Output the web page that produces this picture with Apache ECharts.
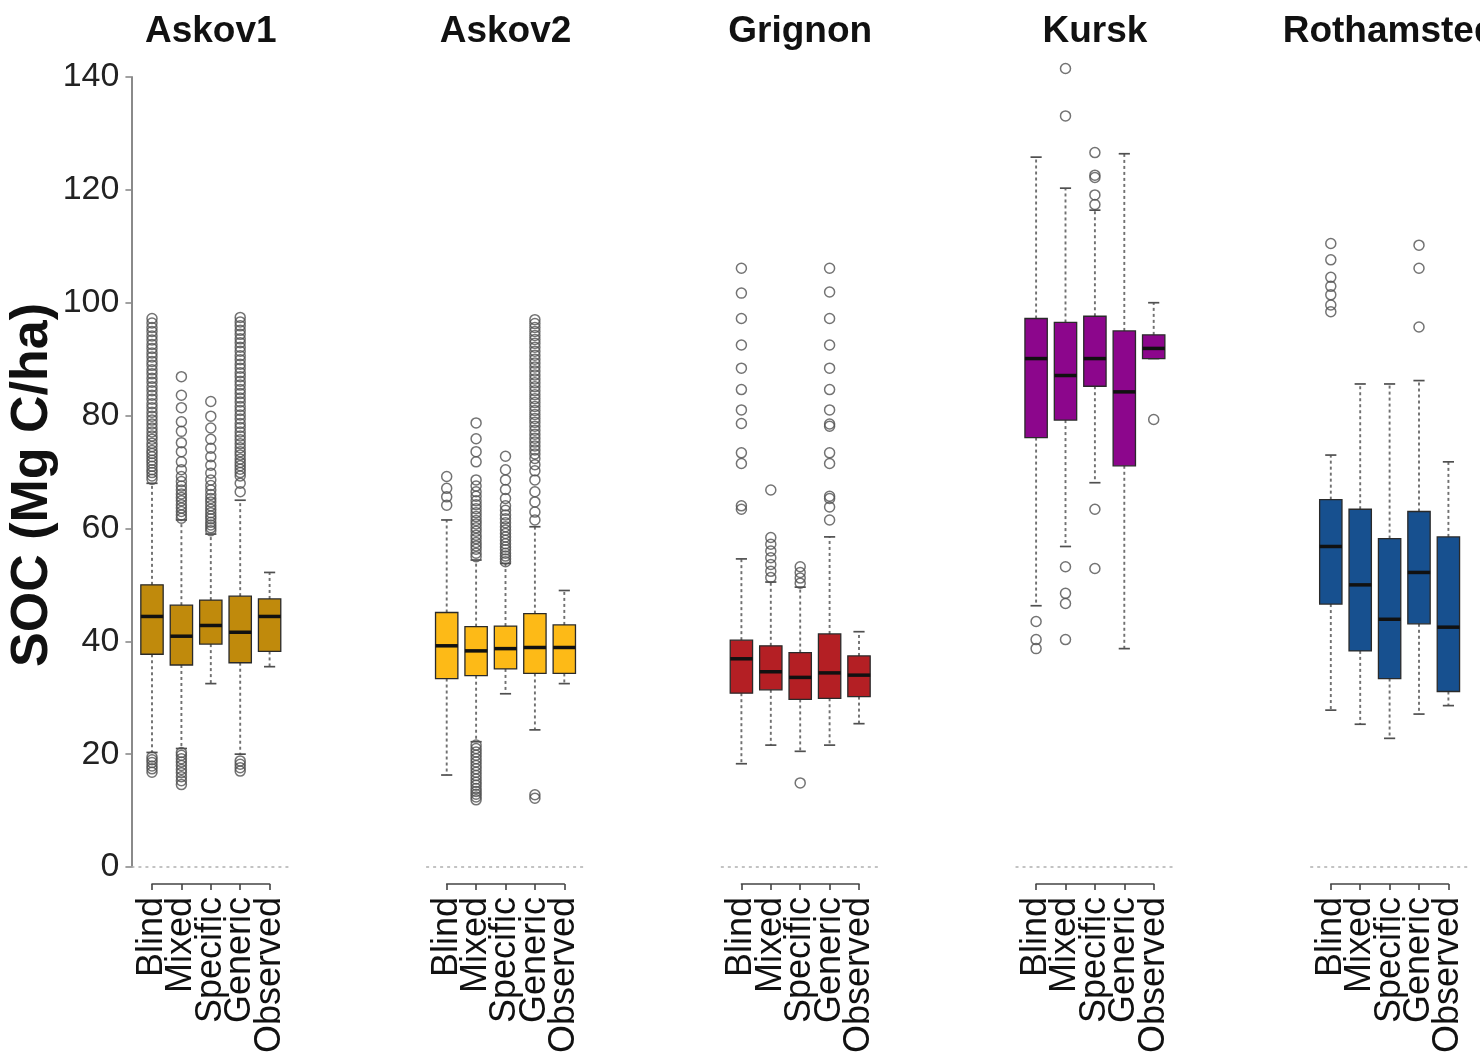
<!DOCTYPE html>
<html>
<head>
<meta charset="utf-8">
<script src="https://cdn.jsdelivr.net/npm/echarts@6/dist/echarts.min.js"></script>
<style>
  html, body { margin: 0; padding: 0; background: #fff; }
  #chart { width: 1480px; height: 1055px; }
</style>
</head>
<body>
<div id="chart"></div>
<script>
// ---------------- DATA ----------------
const SITES = ['Askov1', 'Askov2', 'Grignon', 'Kursk', 'Rothamsted'];
const METHODS = ['Blind', 'Mixed', 'Specific', 'Generic', 'Observed'];
const Y_MIN = 0, Y_MAX = 140, Y_STEP = 20;
const Y_NAME = 'SOC (Mg C/ha)';

// box stats per method: [lower whisker, Q1, median, Q3, upper whisker]
const askov1Box = [
  [20.3, 37.7, 44.4, 50.0, 68.0],
  [21.0, 35.8, 40.9, 46.4, 61.5],
  [32.5, 39.5, 42.8, 47.3, 59.0],
  [20.0, 36.2, 41.6, 48.0, 65.0],
  [35.5, 38.2, 44.4, 47.5, 52.2]
];
const askov2Box = [
  [16.3, 33.4, 39.2, 45.1, 61.5],
  [22.2, 33.9, 38.3, 42.6, 54.4],
  [30.7, 35.1, 38.7, 42.7, 53.8],
  [24.3, 34.3, 38.9, 44.9, 60.3],
  [32.5, 34.3, 38.9, 42.9, 49.0]
];
const grignonBox = [
  [18.3, 30.8, 36.9, 40.2, 54.6],
  [21.6, 31.4, 34.6, 39.2, 50.5],
  [20.5, 29.7, 33.6, 38.0, 49.6],
  [21.6, 29.9, 34.4, 41.3, 58.5],
  [25.4, 30.2, 34.0, 37.4, 41.7]
];
const kurskBox = [
  [46.3, 76.1, 90.1, 97.2, 125.8],
  [56.8, 79.2, 87.1, 96.5, 120.3],
  [68.1, 85.2, 90.1, 97.6, 116.4],
  [38.7, 71.1, 84.2, 95.0, 126.4],
  [90.1, 90.1, 91.9, 94.3, 100.0]
];
const rothamstedBox = [
  [27.8, 46.6, 56.8, 65.1, 73.0],
  [25.3, 38.3, 50.0, 63.4, 85.6],
  [22.8, 33.4, 43.9, 58.2, 85.6],
  [27.1, 43.1, 52.2, 63.0, 86.2],
  [28.6, 31.1, 42.5, 58.5, 71.8]
];

// outliers per method (Blind, Mixed, Specific, Generic, Observed)
const askov1Out = [
  [16.8, 17.4, 17.9, 18.5, 19.0, 19.5,
   68.7, 69.3, 69.9, 70.4, 71.0, 71.6, 72.1, 72.7, 73.3, 73.8, 74.5, 75.1, 75.8, 76.4,
   77.1, 77.8, 78.5, 79.2, 79.9, 80.6, 81.4, 82.1, 82.9, 83.6, 84.4, 85.1, 85.9, 86.6,
   87.4, 88.1, 88.9, 89.6, 90.4, 91.1, 91.9, 92.6, 93.4, 94.1, 94.9, 95.6, 96.4, 97.2],
  [14.6, 15.3, 16.0, 16.7, 17.3, 18.0, 18.6, 19.2, 19.8, 20.3,
   61.8, 62.4, 63.0, 63.6, 64.2, 64.9, 65.5, 66.1, 66.8, 67.5, 68.3, 69.2, 70.4, 71.8,
   73.6, 75.2, 77.2, 78.9, 81.4, 83.6, 86.9],
  [59.6, 60.1, 60.6, 61.1, 61.7, 62.2, 62.8, 63.4, 64.0, 64.7, 65.3, 66.0, 66.8, 67.6,
   68.6, 69.8, 71.2, 72.7, 74.2, 75.8, 77.8, 79.9, 82.5],
  [17.0, 17.6, 18.2, 18.8,
   66.5, 68.0, 69.3, 69.9, 70.5, 71.1, 71.7, 72.3, 73.0, 73.6, 74.3, 75.0, 75.7, 76.4,
   77.1, 77.9, 78.6, 79.4, 80.1, 80.9, 81.6, 82.4, 83.1, 83.9, 84.6, 85.4, 86.1, 86.9,
   87.6, 88.4, 89.1, 89.9, 90.6, 91.4, 92.1, 92.9, 93.6, 94.4, 95.1, 95.9, 96.6, 97.4],
  []
];
const askov2Out = [
  [64.1, 65.6, 67.1, 69.2],
  [11.9, 12.4, 12.9, 13.4, 13.9, 14.5, 15.0, 15.6, 16.2, 16.8, 17.4, 18.0, 18.6, 19.2,
   19.8, 20.4, 21.0, 21.6,
   55.0, 55.6, 56.3, 56.9, 57.5, 58.2, 58.8, 59.5, 60.1, 60.8, 61.4, 62.1, 62.8, 63.5,
   64.2, 64.9, 65.7, 66.5, 67.5, 68.6, 71.8, 73.6, 75.9, 78.7],
  [54.1, 54.6, 55.1, 55.6, 56.2, 56.7, 57.3, 57.9, 58.5, 59.1, 59.7, 60.3, 61.0, 61.7,
   62.4, 63.2, 64.0, 65.3, 66.9, 68.6, 70.4, 72.8],
  [12.2, 12.8,
   61.5, 62.9, 64.7, 66.5, 68.6, 70.2, 71.3, 72.4, 73.2, 73.9, 74.6, 75.3, 76.0, 76.7,
   77.4, 78.1, 78.8, 79.5, 80.2, 80.9, 81.6, 82.3, 83.0, 83.7, 84.4, 85.1, 85.8, 86.5,
   87.2, 87.9, 88.6, 89.3, 90.0, 90.7, 91.4, 92.1, 92.8, 93.5, 94.2, 94.9, 95.6, 96.3, 97.0],
  []
];
const grignonOut = [
  [63.4, 64.0, 71.5, 73.4, 78.6, 81.0, 84.6, 88.4, 92.5, 97.2, 101.7, 106.1],
  [51.3, 52.4, 53.6, 54.8, 56.0, 57.2, 58.4, 66.8],
  [14.9, 50.3, 51.2, 52.2, 53.2],
  [61.5, 63.8, 65.3, 65.7, 71.5, 73.4, 78.1, 78.5, 81.0, 84.6, 88.4, 92.5, 97.2, 101.9, 106.1],
  []
];
const kurskOut = [
  [38.7, 40.3, 43.5],
  [40.3, 46.7, 48.5, 53.2, 133.1, 141.5],
  [52.9, 63.4, 117.4, 119.1, 122.2, 122.6, 126.6],
  [],
  [79.3]
];
const rothamstedOut = [
  [98.4, 99.6, 101.4, 102.9, 104.5, 107.6, 110.5],
  [],
  [],
  [95.7, 106.1, 110.2],
  []
];

const BOXES = [askov1Box, askov2Box, grignonBox, kurskBox, rothamstedBox];
const OUTLIERS = [askov1Out, askov2Out, grignonOut, kurskOut, rothamstedOut];
const COLORS = ['#C08A0C', '#FDBA17', '#B41F24', '#8C068C', '#17508F'];

// ---------------- LAYOUT ----------------
const FONT = '"Liberation Sans", Arial, Helvetica, sans-serif';
const PLOT_TOP = 77, PLOT_H = 790;
const FIRST_CAT_X = 152, CAT_STEP = 29.4, PANEL_STEP = 294.7;

function makeRender(color) {
  return function (params, api) {
    const c = api.value(0);
    const x = api.coord([c, api.value(3)])[0];
    const yLw = api.coord([c, api.value(1)])[1];
    const yQ1 = api.coord([c, api.value(2)])[1];
    const yMed = api.coord([c, api.value(3)])[1];
    const yQ3 = api.coord([c, api.value(4)])[1];
    const yUw = api.coord([c, api.value(5)])[1];
    const band = api.size([1, 0])[0];
    const bw = band * 0.76;
    const cap = bw * 0.25;
    const wStyle = { stroke: '#707070', lineWidth: 1.9, lineDash: [3, 3] };
    const cStyle = { stroke: '#505050', lineWidth: 1.7 };
    return {
      type: 'group',
      children: [
        { type: 'line', shape: { x1: x, y1: yQ3, x2: x, y2: yUw }, style: wStyle },
        { type: 'line', shape: { x1: x, y1: yQ1, x2: x, y2: yLw }, style: wStyle },
        { type: 'line', shape: { x1: x - cap, y1: yUw, x2: x + cap, y2: yUw }, style: cStyle },
        { type: 'line', shape: { x1: x - cap, y1: yLw, x2: x + cap, y2: yLw }, style: cStyle },
        { type: 'rect', shape: { x: x - bw / 2, y: yQ3, width: bw, height: yQ1 - yQ3 },
          style: { fill: color, stroke: '#2a2a2a', lineWidth: 1.3 } },
        { type: 'line', shape: { x1: x - bw / 2, y1: yMed, x2: x + bw / 2, y2: yMed },
          style: { stroke: '#111', lineWidth: 3.5 } }
      ]
    };
  };
}

const grids = [], xAxes = [], yAxes = [], series = [], titles = [];

SITES.forEach((site, k) => {
  const firstX = FIRST_CAT_X + PANEL_STEP * k;
  const outerLeft = firstX - 0.7 * CAT_STEP;
  const outerW = 5.4 * CAT_STEP;
  const innerW = 4 * CAT_STEP;

  grids.push({ left: outerLeft, top: PLOT_TOP, width: outerW, height: PLOT_H, outerBoundsMode: 'none' });
  grids.push({ left: firstX, top: PLOT_TOP, width: innerW, height: PLOT_H, outerBoundsMode: 'none' });
  const gOuter = 2 * k, gInner = 2 * k + 1;

  xAxes.push({ gridIndex: gOuter, type: 'value', min: 0, max: 1, show: false });
  xAxes.push({
    gridIndex: gInner, type: 'category', data: METHODS, boundaryGap: false,
    position: 'bottom', offset: 17,
    axisLine: { show: true, onZero: false, lineStyle: { color: '#444', width: 1.6 } },
    axisTick: { show: true, length: 6, inside: false, interval: 0, lineStyle: { color: '#444', width: 1.6 } },
    axisLabel: { rotate: 90, interval: 0, fontSize: 36, color: '#111', margin: 13, fontFamily: FONT },
    splitLine: { show: false }
  });

  const first = k === 0;
  yAxes.push({
    gridIndex: gOuter, type: 'value', min: Y_MIN, max: Y_MAX, interval: Y_STEP,
    show: first,
    name: first ? Y_NAME : '',
    nameLocation: 'middle', nameGap: 72,
    nameTextStyle: { fontSize: 52, fontWeight: 'bold', color: '#111', fontFamily: FONT, padding: [0, 26, 0, 0] },
    axisLine: { show: true, lineStyle: { color: '#8a8a8a', width: 2 } },
    axisTick: { show: true, length: 6, lineStyle: { color: '#8a8a8a', width: 1.6 } },
    axisLabel: { fontSize: 34, color: '#222', margin: 12, fontFamily: FONT },
    splitLine: { show: false }
  });
  yAxes.push({ gridIndex: gInner, type: 'value', min: Y_MIN, max: Y_MAX, show: false, splitLine: { show: false } });

  series.push({
    type: 'line', xAxisIndex: 2 * k, yAxisIndex: 2 * k, data: [], silent: true,
    markLine: {
      silent: true, symbol: 'none', animation: false,
      label: { show: false },
      lineStyle: { type: [3, 4], color: '#b0b0b0', width: 1.6 },
      data: [{ yAxis: 0 }]
    }
  });

  series.push({
    type: 'custom', xAxisIndex: 2 * k + 1, yAxisIndex: 2 * k + 1, clip: false,
    renderItem: makeRender(COLORS[k]),
    encode: { x: 0, y: [1, 2, 3, 4, 5] },
    data: BOXES[k].map((b, i) => [i].concat(b)),
    animation: false
  });

  const pts = [];
  OUTLIERS[k].forEach((arr, i) => arr.forEach(v => pts.push([i, v])));
  series.push({
    type: 'scatter', xAxisIndex: 2 * k + 1, yAxisIndex: 2 * k + 1, clip: false,
    symbol: 'circle', symbolSize: 10,
    itemStyle: { color: 'rgba(0,0,0,0)', borderColor: '#505050', borderWidth: 1.5 },
    data: pts, animation: false, z: 3
  });

  titles.push({
    text: site, left: outerLeft + outerW / 2 - 5, top: 8, textAlign: 'center',
    textStyle: { fontSize: 37, fontWeight: 'bold', color: '#111', fontFamily: FONT }
  });
});

const chart = echarts.init(document.getElementById('chart'), null, { renderer: 'canvas' });
chart.setOption({
  backgroundColor: '#fff',
  animation: false,
  title: titles,
  grid: grids,
  xAxis: xAxes,
  yAxis: yAxes,
  series: series
});
</script>
</body>
</html>
